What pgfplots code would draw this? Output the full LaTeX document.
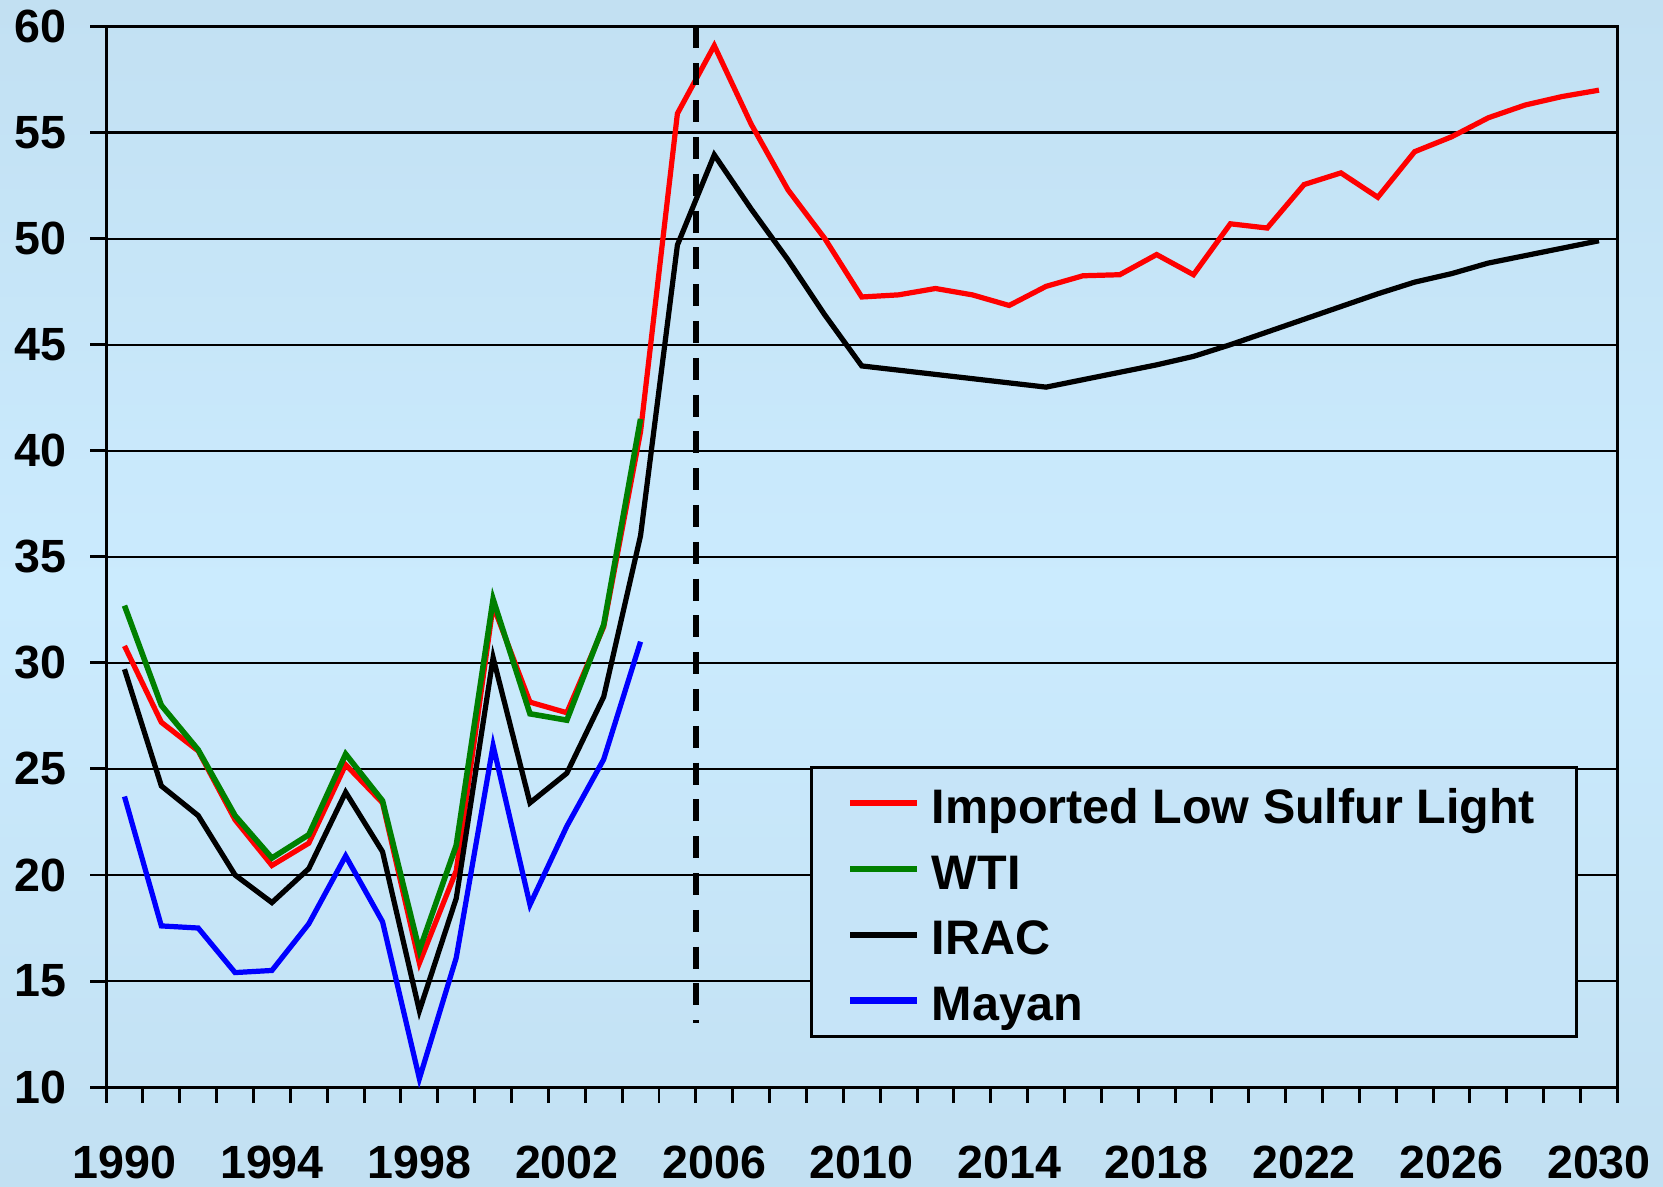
\documentclass[border=0pt]{standalone}
\usepackage{pgfplots}
\pgfplotsset{compat=1.18}
\usepackage{fontspec}
\setmainfont{Liberation Sans}
\definecolor{bgtop}{HTML}{C2E0F2}
\definecolor{bgmid}{HTML}{CBEBFE}
\definecolor{legfill}{HTML}{C6E4F8}
\definecolor{wtigreen}{HTML}{008000}
\begin{document}
\begin{tikzpicture}
\shade[top color=bgtop, bottom color=bgtop, middle color=bgmid] (-10mm,-9.4mm) rectangle (146.8mm,102.5mm);
\begin{axis}[
  scale only axis, width=142.5mm, height=100mm,
  xmin=1989.5, xmax=2030.5, ymin=10, ymax=60,
  ytick={10,15,...,60},
  ymajorgrids, grid style={black, line width=0.6pt},
  xtick={1989.5,1990.5,...,2030.5}, xticklabels={},
  extra x ticks={1990,1994,...,2030},
  extra x tick labels={1990,1994,1998,2002,2006,2010,2014,2018,2022,2026,2030},
  extra x tick style={major tick length=0pt, grid=none},
  tick pos=left, tick align=outside, major tick length=1.5mm,
  tick style={black, line width=0.8pt},
  axis line style={black, line width=0.8pt},
  /pgf/number format/assume math mode=true,
  tick label style={font=\fontsize{12.5}{14}\selectfont\bfseries},
  yticklabel style={xshift=-1mm},
  xticklabel style={yshift=-4.3mm},
  legend style={at={(0.4658,0.303)}, anchor=north west, draw=black, line width=0.8pt,
    fill=legfill, inner xsep=3.35mm, inner ysep=0.8mm, row sep=1.0mm,
    font=\fontsize{13}{15}\selectfont\bfseries,
    nodes={inner xsep=0.6mm, inner ysep=0.6mm, text height=3.9mm, text depth=0.1mm},
    /tikz/every odd column/.style={column sep=0.5mm}},
  legend cell align=left,
  legend image code/.code={\draw[#1, line width=1.7pt] (0mm,0mm) -- (6.3mm,0mm);},
]
\addplot[red, line width=1.4pt] coordinates {
(1990,30.8) (1991,27.2) (1992,25.85) (1993,22.6) (1994,20.45) (1995,21.5) (1996,25.2) (1997,23.4) (1998,15.85) (1999,20.2)
(2000,32.7) (2001,28.15) (2002,27.65) (2003,31.7) (2004,40.9) (2005,55.9) (2006,59.1) (2007,55.4) (2008,52.3) (2009,50.0)
(2010,47.25) (2011,47.35) (2012,47.65) (2013,47.35) (2014,46.85) (2015,47.75) (2016,48.25) (2017,48.3) (2018,49.25) (2019,48.3)
(2020,50.7) (2021,50.5) (2022,52.55) (2023,53.1) (2024,51.95) (2025,54.1) (2026,54.8) (2027,55.7) (2028,56.3) (2029,56.7) (2030,57.0)};
\addlegendentry{Imported Low Sulfur Light}
\addplot[wtigreen, line width=1.5pt] coordinates {
(1990,32.7) (1991,28.0) (1992,25.9) (1993,22.8) (1994,20.8) (1995,21.9) (1996,25.7) (1997,23.5) (1998,16.45) (1999,21.4)
(2000,33.0) (2001,27.6) (2002,27.3) (2003,31.8) (2004,41.5)};
\addlegendentry{WTI}
\addplot[black, line width=1.4pt] coordinates {
(1990,29.7) (1991,24.2) (1992,22.8) (1993,20.0) (1994,18.7) (1995,20.3) (1996,23.9) (1997,21.1) (1998,13.6) (1999,18.9)
(2000,30.25) (2001,23.4) (2002,24.8) (2003,28.4) (2004,36.0) (2005,49.7) (2006,53.95) (2007,51.4) (2008,49.0) (2009,46.4)
(2010,44.0) (2011,43.8) (2012,43.6) (2013,43.4) (2014,43.2) (2015,43.0) (2016,43.35) (2017,43.7) (2018,44.05) (2019,44.45)
(2020,45.0) (2021,45.6) (2022,46.2) (2023,46.8) (2024,47.4) (2025,47.95) (2026,48.35) (2027,48.85) (2028,49.2) (2029,49.55) (2030,49.9)};
\addlegendentry{IRAC}
\addplot[blue, line width=1.4pt] coordinates {
(1990,23.7) (1991,17.6) (1992,17.5) (1993,15.4) (1994,15.5) (1995,17.7) (1996,20.9) (1997,17.8) (1998,10.4) (1999,16.1)
(2000,26.1) (2001,18.6) (2002,22.3) (2003,25.45) (2004,31.0)};
\addlegendentry{Mayan}
\addplot[black, line width=1.5pt, dash pattern=on 2.07mm off 1.4mm, forget plot] coordinates {(2005.5,60) (2005.5,13)};
\end{axis}
\pgfresetboundingbox
\useasboundingbox (-10mm,-9.4mm) rectangle (146.8mm,102.5mm);
\end{tikzpicture}
\end{document}
